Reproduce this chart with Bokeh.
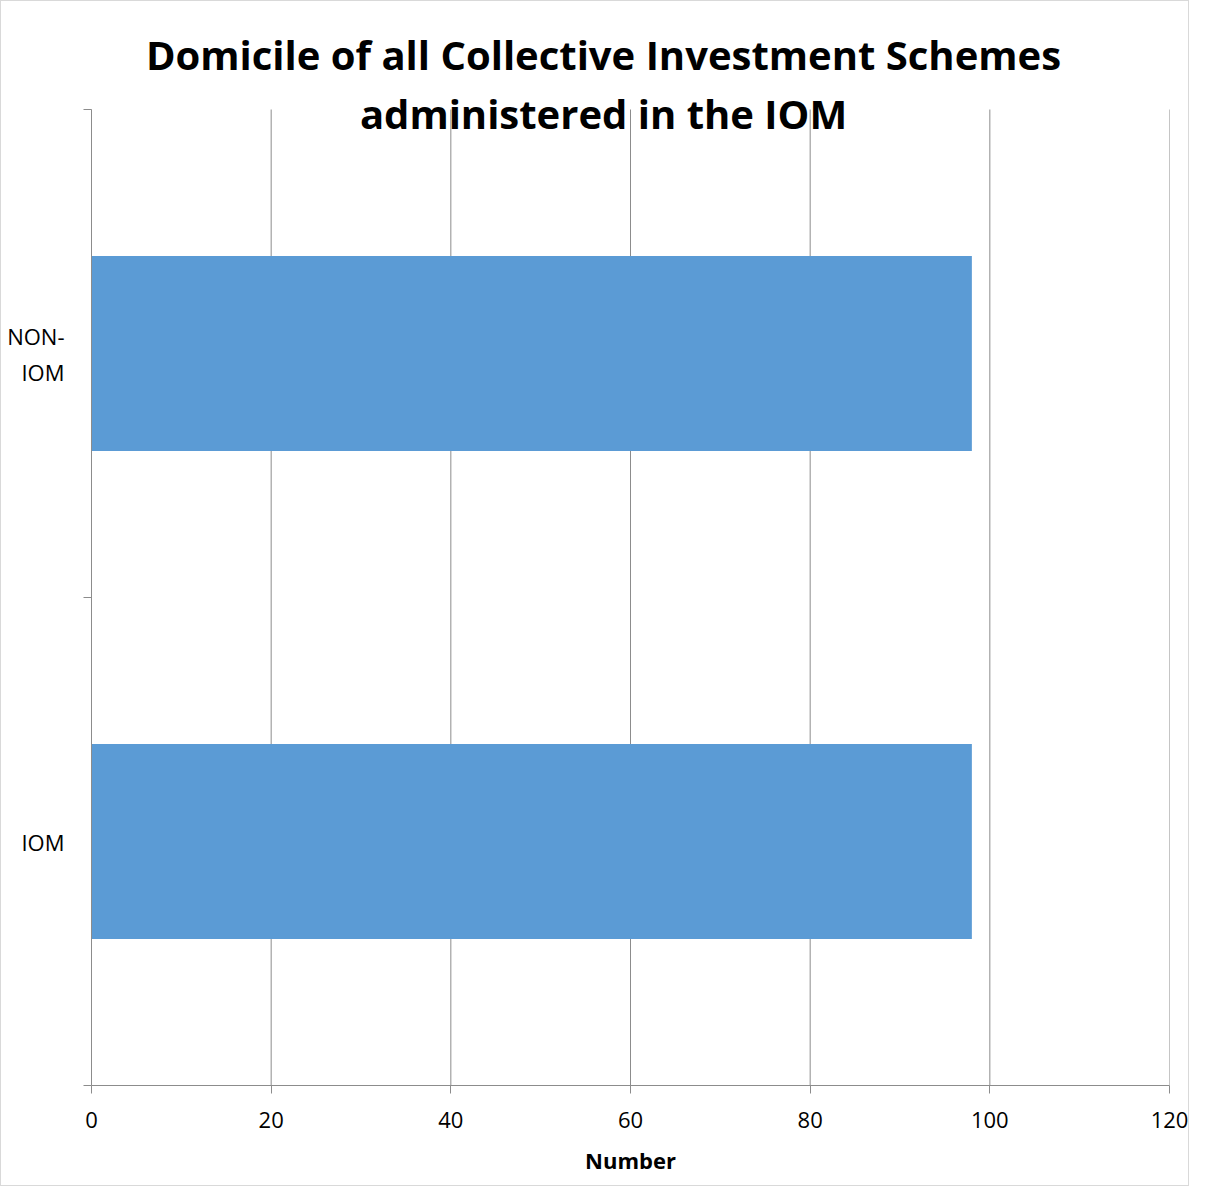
from bokeh.plotting import figure
from bokeh.models import FixedTicker, Label, Range1d
from bokeh.embed import file_html
from bokeh.resources import INLINE

categories = ["IOM", "NON-IOM"]
counts = [98, 98]
category_labels = ["IOM", "NON-\nIOM"]
x_ticks = [0, 20, 40, 60, 80, 100, 120]
title_lines = ["Domicile of all Collective Investment Schemes", "administered in the IOM"]
x_title = "Number"

FONT = "Open Sans"
GRAY = "#8c8c8c"

n = len(categories)
# frame extends above the category area so that the title can overlap it
top_pad = 108 / 488
p = figure(width=1189, height=1186, output_backend="svg", toolbar_location=None,
           x_range=Range1d(0, 120), y_range=Range1d(0, n + top_pad),
           min_border_left=90, min_border_right=21, min_border_top=0,
           min_border_bottom=102)
p.styles = {"border": "1px solid #d9d9d9", "box-sizing": "border-box"}
p.outline_line_color = None
p.background_fill_color = "white"
p.xgrid.grid_line_color = None
p.ygrid.grid_line_color = None

# vertical gridlines limited to the category area
p.segment(x0=x_ticks, x1=x_ticks, y0=[0] * len(x_ticks), y1=[n] * len(x_ticks),
          line_color=GRAY, line_width=1, level="underlay")

centers = [i + 0.5 for i in range(n)]
p.hbar(y=centers, right=counts, left=0, height=0.4, color="#5B9BD5", line_color=None)

# x axis
p.xaxis.ticker = FixedTicker(ticks=x_ticks)
p.xaxis.axis_line_color = GRAY
p.xaxis.major_tick_line_color = GRAY
p.xaxis.major_tick_out = 8
p.xaxis.major_tick_in = 0
p.xaxis.minor_tick_line_color = None
p.xaxis.major_label_text_font = FONT
p.xaxis.major_label_text_font_size = "22px"
p.xaxis.major_label_text_color = "black"
p.xaxis.major_label_standoff = 18
p.xaxis.axis_label = x_title
p.xaxis.axis_label_text_font = FONT
p.xaxis.axis_label_text_font_size = "22px"
p.xaxis.axis_label_text_font_style = "bold"
p.xaxis.axis_label_text_color = "black"
p.xaxis.axis_label_standoff = 14

# y axis: labels at category centres, ticks at boundaries
p.yaxis.ticker = FixedTicker(ticks=centers, minor_ticks=list(range(n + 1)))
p.yaxis.bounds = (0, n)
p.yaxis.major_label_overrides = {c: l for c, l in zip(centers, category_labels)}
p.yaxis.axis_line_color = GRAY
p.yaxis.major_tick_line_color = None
p.yaxis.minor_tick_line_color = GRAY
p.yaxis.minor_tick_out = 8
p.yaxis.minor_tick_in = 0
p.yaxis.major_label_text_font = FONT
p.yaxis.major_label_text_font_size = "22px"
p.yaxis.major_label_text_color = "black"
p.yaxis.major_label_text_align = "center"
p.yaxis.major_label_standoff = 19

# title, overlapping the plot area (screen units from frame bottom-left)
for line, yy in zip(title_lines, [1031, 972]):
    p.add_layout(Label(x=512, y=yy, x_units="screen", y_units="screen", text=line,
                       text_font=FONT, text_font_style="bold", text_font_size="40px",
                       text_align="center", text_baseline="middle", text_color="black"))

open("out.html", "w").write(file_html(p, INLINE))
